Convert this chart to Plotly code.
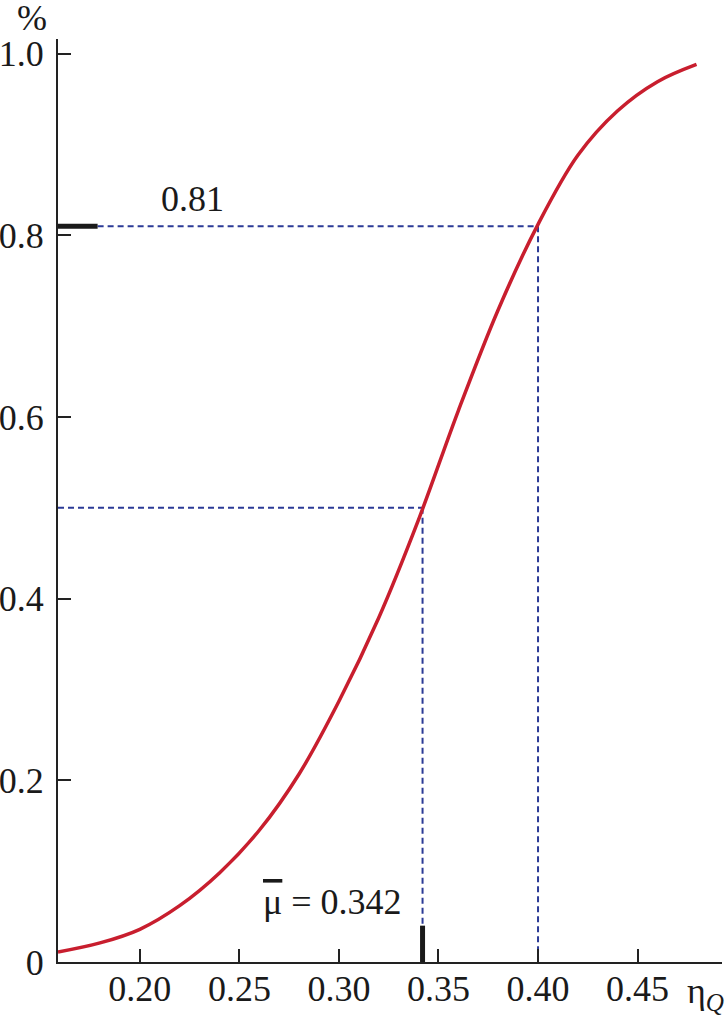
import plotly.graph_objects as go

# Curve (cumulative distribution)
eta = [0.1589, 0.18, 0.20, 0.22, 0.24, 0.26, 0.28, 0.30, 0.32, 0.34, 0.36,
       0.38, 0.40, 0.42, 0.44, 0.46, 0.4796]
prob = [0.011, 0.021, 0.036, 0.062, 0.098, 0.145, 0.207, 0.287, 0.379, 0.487,
        0.607, 0.718, 0.812, 0.888, 0.937, 0.969, 0.988]

mu_mean = 0.342
p_half = 0.5
eta_81 = 0.40
p_81 = 0.81
x_min, x_max = 0.1589, 0.4924
y_min, y_max = 0.0, 1.016
mark_x_end = 0.1788   # end of the thick mark at 0.81 on y axis
mark_y_end = 0.04     # top of the thick mark at mean on x axis

x_ticks = [0.20, 0.25, 0.30, 0.35, 0.40, 0.45]
x_ticktext = ["0.20", "0.25", "0.30", "0.35", "0.40", "0.45"]
y_ticks = [0, 0.2, 0.4, 0.6, 0.8, 1.0]
y_ticktext = ["0", "0.2", "0.4", "0.6", "0.8", "1.0"]

FONT = "Liberation Serif, Times New Roman, DejaVu Serif, serif"
BLUE = "#2b3a96"
RED = "#c81e2e"
INK = "#1a1a1a"
FS = 36

fig = go.Figure()

dash = dict(color=BLUE, width=2, dash="6px,4px")
fig.add_trace(go.Scatter(x=[mark_x_end, eta_81], y=[p_81, p_81], mode="lines", line=dash))
fig.add_trace(go.Scatter(x=[eta_81, eta_81], y=[p_81, 0], mode="lines", line=dash))
fig.add_trace(go.Scatter(x=[x_min, mu_mean], y=[p_half, p_half], mode="lines", line=dash))
fig.add_trace(go.Scatter(x=[mu_mean, mu_mean], y=[p_half, mark_y_end], mode="lines", line=dash))

fig.add_trace(go.Scatter(x=eta, y=prob, mode="lines",
                         line=dict(color=RED, width=3.5, shape="spline", smoothing=1.0)))

fig.add_trace(go.Scatter(x=[x_min, mark_x_end], y=[p_81, p_81], mode="lines",
                         line=dict(color=INK, width=5)))
fig.add_trace(go.Scatter(x=[mu_mean, mu_mean], y=[0, mark_y_end], mode="lines",
                         line=dict(color=INK, width=5)))

fig.add_annotation(x=0.2265, y=p_81, yshift=27, text="0.81", showarrow=False,
                   xanchor="center", yanchor="middle",
                   font=dict(family=FONT, size=FS, color=INK))
fig.add_annotation(x=0.2967, y=0.066,
                   text="<span style='text-decoration:overline'>\u03bc</span>\u00a0= 0.342",
                   showarrow=False, xanchor="center", yanchor="middle",
                   font=dict(family=FONT, size=FS, color=INK))
fig.add_annotation(xref="paper", yref="paper", x=1.0, y=0, yshift=-31,
                   xanchor="left", yanchor="middle",
                   xshift=-37, text="\u03b7<sub><i>Q</i></sub>", showarrow=False,
                   font=dict(family=FONT, size=FS, color=INK))
fig.add_annotation(xref="paper", yref="paper", x=0, y=1, xshift=-26, yshift=21,
                   xanchor="center", yanchor="middle",
                   text="%", showarrow=False,
                   font=dict(family=FONT, size=FS, color=INK))

fig.update_layout(
    width=726, height=1017,
    margin=dict(l=58, r=4, t=39, b=55, autoexpand=False),
    paper_bgcolor="white", plot_bgcolor="white",
    showlegend=False,
    font=dict(family=FONT, size=FS, color=INK),
)
fig.update_xaxes(range=[x_min, x_max], tickvals=x_ticks, ticktext=x_ticktext,
                 ticks="inside", ticklen=13, tickwidth=2, tickcolor="#222222",
                 showline=True, linecolor="#222222", linewidth=2, automargin=False,
                 showgrid=False, zeroline=False, ticklabelstandoff=-6,
                 tickfont=dict(family=FONT, size=FS, color=INK))
fig.update_yaxes(range=[y_min, y_max], tickvals=y_ticks, ticktext=y_ticktext,
                 ticks="inside", ticklen=13, tickwidth=2, tickcolor="#222222",
                 showline=True, linecolor="#222222", linewidth=2, automargin=False,
                 showgrid=False, zeroline=False, ticklabelstandoff=5,
                 tickfont=dict(family=FONT, size=FS, color=INK))

fig.write_html("out.html", config={"displayModeBar": False},
               post_script="document.body.style.margin='0';document.body.style.overflow='hidden';")
